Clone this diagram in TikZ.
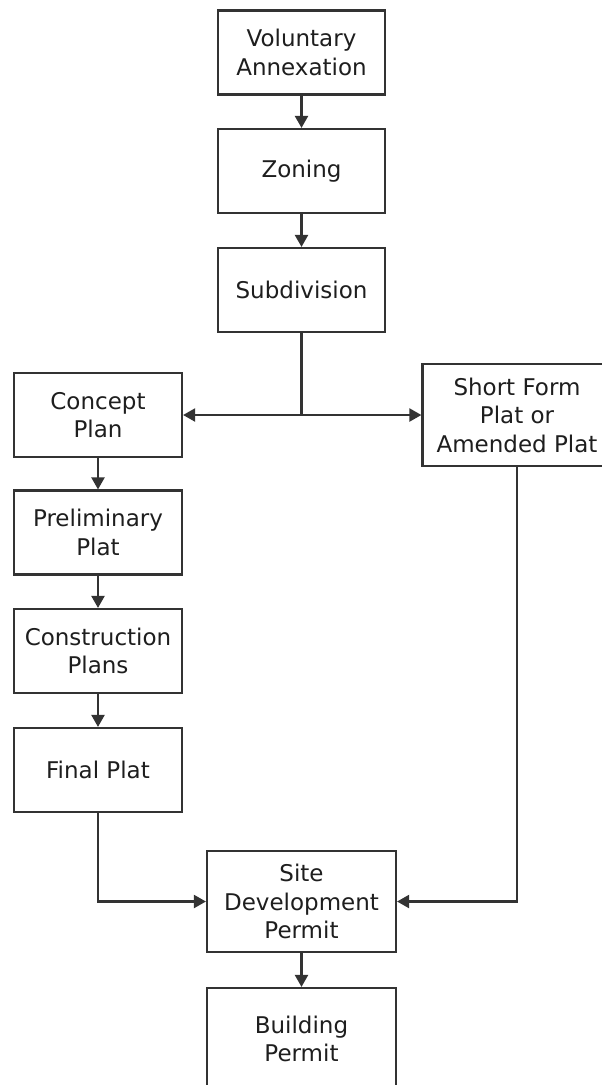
\documentclass[tikz,border=0pt]{standalone}
\usepackage{fontspec}
\setmainfont{DejaVu Sans}
\usetikzlibrary{arrows.meta, positioning}

\definecolor{linegray}{HTML}{333333}
\definecolor{textgray}{HTML}{1E1E1E}

\tikzset{
  stage/.style={draw=linegray, line width=2.2pt, fill=white, text=textgray,
    align=center, inner sep=0pt, font=\fontsize{23}{28.5}\selectfont,
    minimum width=167, minimum height=84},
  widestage/.style={stage, minimum width=189, minimum height=102},
  link/.style={draw=linegray, line width=2.2pt},
  flow/.style={link, -{Triangle[length=12pt,width=13pt]}},
}

\begin{document}
\begin{tikzpicture}[x=1pt, y=-1pt]
            \clip (0,0) rectangle (602,1085);
            \fill[white] (0,0) rectangle (602,1085);
            \node[stage] (vol) at (301.5,52.5) {Voluntary\\Annexation};
            \node[stage] (zon) at (301.5,171) {Zoning};
            \node[stage] (sub) at (301.5,290) {Subdivision};
            \node[stage, minimum width=168] (con) at (98,415) {Concept\\Plan};
            \node[widestage] (sfp) at (517,415) {Short Form\\Plat or\\Amended Plat};
            \node[stage, minimum width=168] (pre) at (98,532.5) {Preliminary\\Plat};
            \node[stage, minimum width=168] (cst) at (98,651) {Construction\\Plans};
            \node[stage, minimum width=168] (fin) at (98,770) {Final Plat};
            \node[widestage, minimum height=101] (sdp) at (301.5,901.5) {Site\\Development\\Permit};
            \node[widestage] (bld) at (301.5,1039) {Building\\Permit};
            \coordinate (split) at (301.5,415);

            \draw[flow] (vol) -- (zon);
            \draw[flow] (zon) -- (sub);
            \draw[link] (sub) -- (split);
            \draw[flow] (split) -- (con);
            \draw[flow] (split) -- (sfp);
            \draw[flow] (con) -- (pre);
            \draw[flow] (pre) -- (cst);
            \draw[flow] (cst) -- (fin);
            \draw[flow] (fin) |- (sdp);
            \draw[flow] (sfp) |- (sdp);
            \draw[flow] (sdp) -- (bld);
        \end{tikzpicture}
\end{document}
